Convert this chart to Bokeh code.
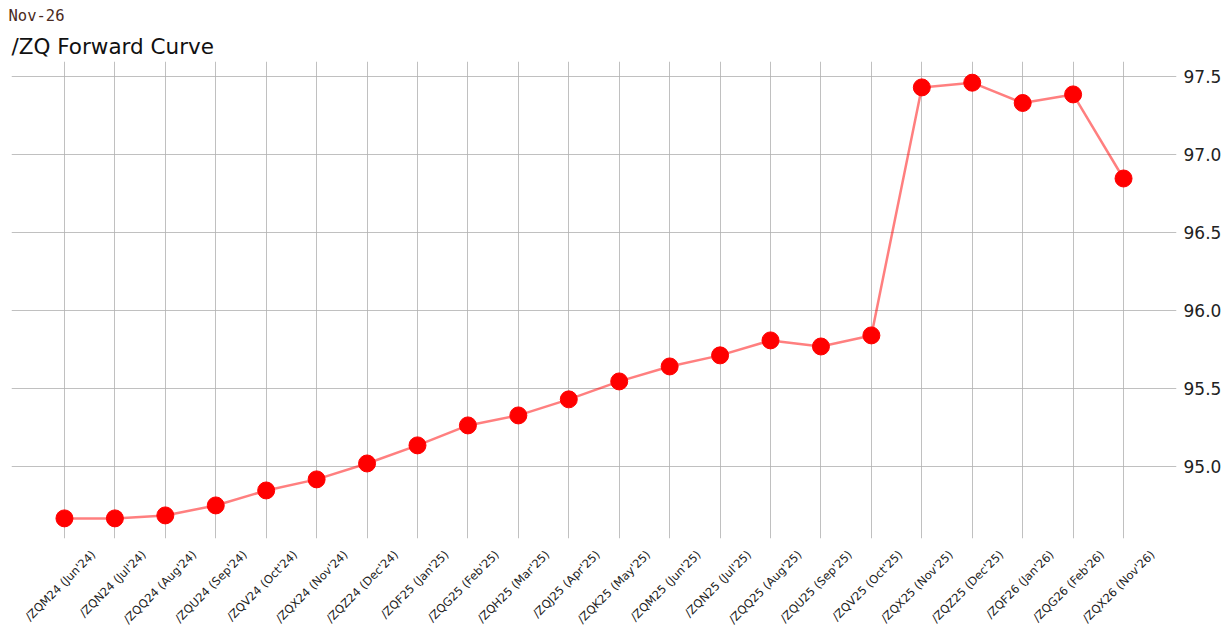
import math
from bokeh.plotting import figure
from bokeh.models import Title, Range1d, FixedTicker, LinearAxis
from bokeh.embed import file_html
from bokeh.resources import INLINE

contracts = ["/ZQM24 (Jun'24)", "/ZQN24 (Jul'24)", "/ZQQ24 (Aug'24)", "/ZQU24 (Sep'24)",
             "/ZQV24 (Oct'24)", "/ZQX24 (Nov'24)", "/ZQZ24 (Dec'24)", "/ZQF25 (Jan'25)",
             "/ZQG25 (Feb'25)", "/ZQH25 (Mar'25)", "/ZQJ25 (Apr'25)", "/ZQK25 (May'25)",
             "/ZQM25 (Jun'25)", "/ZQN25 (Jul'25)", "/ZQQ25 (Aug'25)", "/ZQU25 (Sep'25)",
             "/ZQV25 (Oct'25)", "/ZQX25 (Nov'25)", "/ZQZ25 (Dec'25)", "/ZQF26 (Jan'26)",
             "/ZQG26 (Feb'26)", "/ZQX26 (Nov'26)"]
prices = [94.667, 94.667, 94.686, 94.750, 94.846, 94.917, 95.019, 95.135, 95.263, 95.327,
          95.430, 95.545, 95.641, 95.712, 95.808, 95.769, 95.840, 97.430, 97.460, 97.330,
          97.385, 96.846]
y_ticks = [95.0, 95.5, 96.0, 96.5, 97.0, 97.5]

xs = list(range(len(contracts)))
Y0, Y1 = 94.538, 97.596
X0, X1 = -1.05, len(contracts) - 1 + 1.05
FRAME_W, FRAME_H = 1165, 477
ppx = FRAME_W / (X1 - X0)
shift = 29 / ppx  # centre the rotated labels under their ticks

p = figure(frame_width=FRAME_W, frame_height=FRAME_H, output_backend="svg", toolbar_location=None,
           x_range=Range1d(X0, X1), y_range=Range1d(Y0, Y1),
           x_axis_location=None, y_axis_location="right", title=None,
           min_border_left=11, min_border_right=4, min_border_top=0, min_border_bottom=0)

p.add_layout(Title(text="/ZQ Forward Curve", text_font="DejaVu Sans", text_font_size="21.5px",
                   text_font_style="normal", text_color="#111111", offset=0, standoff=6), "above")
p.add_layout(Title(text="Nov-26", text_font="DejaVu Sans Mono", text_font_size="15.5px",
                   text_font_style="normal", text_color="#4a2a20", offset=-3, standoff=8), "above")

p.outline_line_color = None
p.background_fill_color = "white"
p.border_fill_color = "white"

p.line(xs, prices, line_color="#ff0000", line_alpha=0.5, line_width=2.5)
p.scatter(xs, prices, size=17, fill_color="#ff0000", line_color="#ff0000")

p.extra_x_ranges = {"labels": Range1d(X0 - shift, X1 - shift)}
xa = LinearAxis(x_range_name="labels")
xa.ticker = FixedTicker(ticks=xs)
xa.major_label_overrides = {i: c for i, c in enumerate(contracts)}
xa.major_label_orientation = math.pi / 4
xa.major_label_text_font = "DejaVu Sans"
xa.major_label_text_font_size = "11.5px"
xa.major_label_text_color = "#222222"
xa.axis_line_color = None
xa.major_tick_line_color = None
xa.minor_tick_line_color = None
xa.major_tick_out = 0
xa.major_label_standoff = 14
p.add_layout(xa, "below")

ya = p.yaxis[0]
ya.ticker = FixedTicker(ticks=y_ticks)
ya.major_label_overrides = {t: f"{t:.1f}" for t in y_ticks}
ya.major_label_text_font = "DejaVu Sans"
ya.major_label_text_font_size = "17px"
ya.major_label_text_color = "#222222"
ya.axis_line_color = None
ya.major_tick_line_color = None
ya.minor_tick_line_color = None
ya.major_tick_out = 0
ya.major_label_standoff = 7

p.xgrid.ticker = FixedTicker(ticks=xs)
p.xgrid.grid_line_color = "#b0b0b0"
p.xgrid.grid_line_alpha = 0.8
p.ygrid.grid_line_color = "#b0b0b0"
p.ygrid.grid_line_alpha = 0.8

open("out.html", "w").write(file_html(p, INLINE))
